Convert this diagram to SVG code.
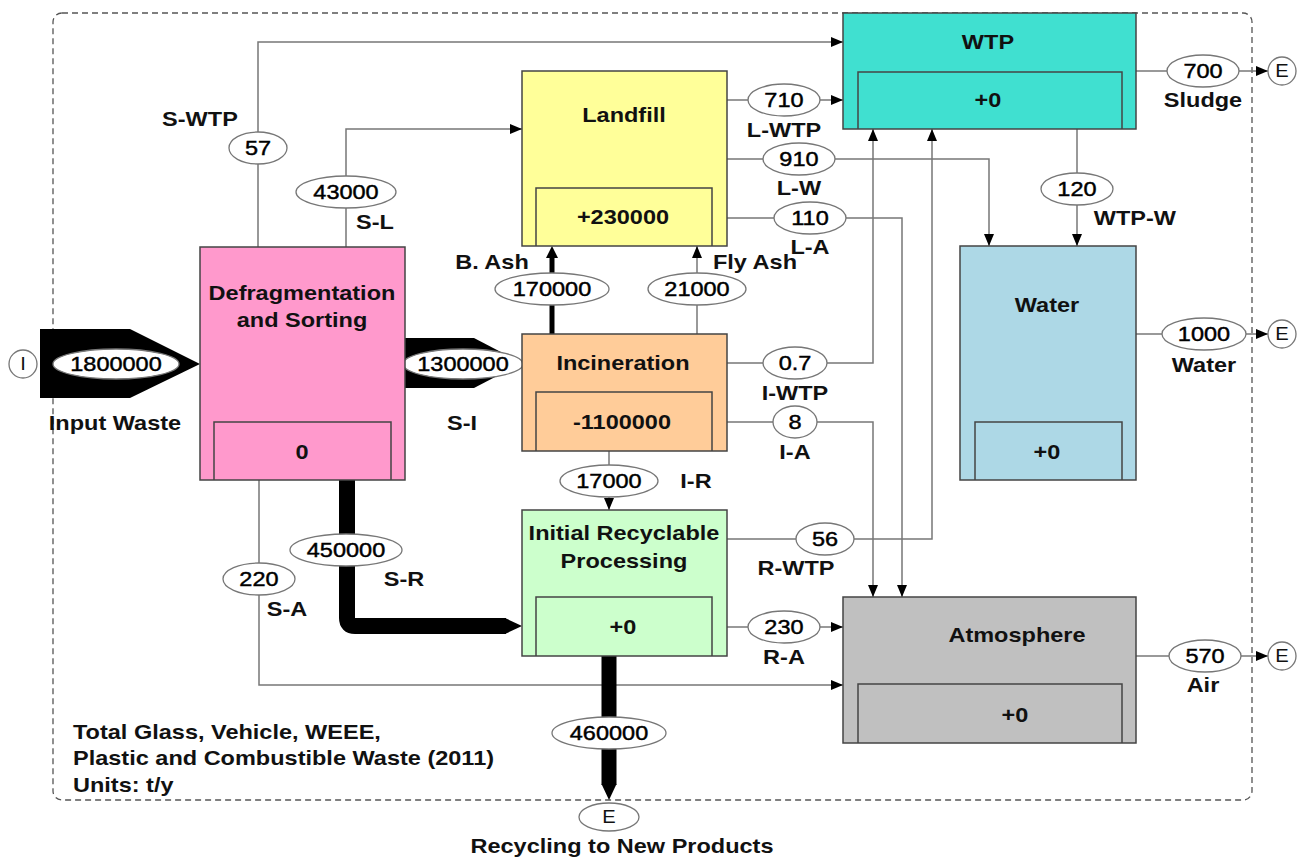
<svg xmlns="http://www.w3.org/2000/svg" width="1297" height="857" viewBox="0 0 1297 857">
<defs>
<marker id="ah" viewBox="0 0 12 10" refX="12" refY="5" markerWidth="12" markerHeight="10" markerUnits="userSpaceOnUse" orient="auto">
<path d="M0,0 L12,5 L0,10 z" fill="#000"/>
</marker>
<style>
text{font-family:"Liberation Sans",Arial,sans-serif;fill:#111;text-anchor:middle;dominant-baseline:central;transform-box:fill-box;transform-origin:center;transform:scaleX(1.12)}
.b{font-weight:bold;font-size:21px}
.n{font-size:21px;fill:#000;stroke:#000;stroke-width:0.45px}
.s{font-size:18px}
.note{text-anchor:start;transform-origin:left center}
.box{stroke:#444;stroke-width:1.5}
.inner{fill:none;stroke:#444;stroke-width:1.5}
.ln{fill:none;stroke:#777;stroke-width:1.5}
.arr{marker-end:url(#ah)}
.el{fill:#fff;stroke:#777;stroke-width:1.3}
.blk{fill:#000}
</style>
</defs>
<rect width="1297" height="857" fill="#fff"/>
<rect x="53" y="13" width="1199" height="787" rx="9" fill="none" stroke="#555" stroke-width="1.3" stroke-dasharray="6 4"/>

<g id="connectors">
<path class="ln arr" d="M258,247 V42 H843"/>
<path class="ln arr" d="M346,247 V129 H522"/>
<path class="ln arr" d="M727,100 H843"/>
<path class="ln arr" d="M727,159 H989 V246"/>
<path class="ln arr" d="M727,218 H902 V597"/>
<path class="ln arr" d="M1077,129 V246"/>
<path class="ln arr" d="M1136,71 H1268"/>
<path class="ln arr" d="M1136,334 H1268"/>
<path class="ln arr" d="M1136,656 H1268"/>
<path class="ln arr" d="M727,363 H873 V129"/>
<path class="ln arr" d="M727,422 H873 V597"/>
<path class="ln arr" d="M727,539 H932 V129"/>
<path class="ln arr" d="M727,627 H843"/>
<path class="ln arr" d="M259,480 V685 H843"/>
<path class="ln arr" d="M609,451 V510"/>
<path class="ln arr" d="M697,334 V246"/>
<path d="M552,334 V258" fill="none" stroke="#000" stroke-width="5"/>
<path d="M546,258 L552,246 L558,258 z" class="blk"/>
<polygon class="blk" points="40,329 130,329 200,364 130,398 40,398"/>
<polygon class="blk" points="405,338 474,338 522,363 474,388 405,388"/>
<path d="M347,480 V618 Q347,626 355,626 H506" fill="none" stroke="#000" stroke-width="16"/>
<polygon class="blk" points="505,618 522,626 505,634"/>
<path d="M609,656 V785" fill="none" stroke="#000" stroke-width="15"/>
<polygon class="blk" points="601.5,784 616.5,784 609,800"/>

<ellipse class="el" cx="116" cy="364" rx="63" ry="15"/><text class="n" x="116" y="364">1800000</text>
<ellipse class="el" cx="463" cy="364" rx="60" ry="15"/><text class="n" x="463" y="364">1300000</text>
<ellipse class="el" cx="258" cy="148" rx="29" ry="16"/><text class="n" x="258" y="148">57</text>
<ellipse class="el" cx="346" cy="192" rx="50" ry="16"/><text class="n" x="346" y="192">43000</text>
<ellipse class="el" cx="552" cy="289" rx="57" ry="16"/><text class="n" x="552" y="289">170000</text>
<ellipse class="el" cx="697" cy="289" rx="49" ry="16"/><text class="n" x="697" y="289">21000</text>
<ellipse class="el" cx="784" cy="100" rx="36" ry="16"/><text class="n" x="784" y="100">710</text>
<ellipse class="el" cx="799" cy="159" rx="36" ry="16"/><text class="n" x="799" y="159">910</text>
<ellipse class="el" cx="810" cy="218" rx="36" ry="16"/><text class="n" x="810" y="218">110</text>
<ellipse class="el" cx="1203" cy="71" rx="36" ry="16"/><text class="n" x="1203" y="71">700</text>
<ellipse class="el" cx="1077" cy="189" rx="36" ry="16"/><text class="n" x="1077" y="189">120</text>
<ellipse class="el" cx="1204" cy="334" rx="42" ry="16"/><text class="n" x="1204" y="334">1000</text>
<ellipse class="el" cx="795" cy="363" rx="32" ry="16"/><text class="n" x="795" y="363">0.7</text>
<ellipse class="el" cx="795" cy="422" rx="22" ry="16"/><text class="n" x="795" y="422">8</text>
<ellipse class="el" cx="609" cy="481" rx="49" ry="16"/><text class="n" x="609" y="481">17000</text>
<ellipse class="el" cx="825" cy="539" rx="29" ry="16"/><text class="n" x="825" y="539">56</text>
<ellipse class="el" cx="784" cy="627" rx="36" ry="16"/><text class="n" x="784" y="627">230</text>
<ellipse class="el" cx="1205" cy="656" rx="36" ry="16"/><text class="n" x="1205" y="656">570</text>
<ellipse class="el" cx="346" cy="550" rx="56" ry="16"/><text class="n" x="346" y="550">450000</text>
<ellipse class="el" cx="259" cy="579" rx="36" ry="16"/><text class="n" x="259" y="579">220</text>
<ellipse class="el" cx="609" cy="733" rx="57" ry="16"/><text class="n" x="609" y="733">460000</text>

<text class="b" x="200" y="119">S-WTP</text>
<text class="b" x="375" y="222">S-L</text>
<text class="b" x="492" y="262">B. Ash</text>
<text class="b" x="755" y="262">Fly Ash</text>
<text class="b" x="784" y="130">L-WTP</text>
<text class="b" x="799" y="188">L-W</text>
<text class="b" x="810" y="247">L-A</text>
<text class="b" x="1203" y="100">Sludge</text>
<text class="b" x="1135" y="218">WTP-W</text>
<text class="b" x="1204" y="365">Water</text>
<text class="b" x="795" y="393">I-WTP</text>
<text class="b" x="795" y="452">I-A</text>
<text class="b" x="696" y="481">I-R</text>
<text class="b" x="796" y="568">R-WTP</text>
<text class="b" x="784" y="657">R-A</text>
<text class="b" x="1203" y="685">Air</text>
<text class="b" x="462" y="423">S-I</text>
<text class="b" x="404" y="579">S-R</text>
<text class="b" x="287" y="609">S-A</text>
<text class="b" x="115" y="423">Input Waste</text>
</g>

<g id="terminals">
<circle class="el" cx="23" cy="364" r="14"/><text class="s" x="23" y="364">I</text>
<circle class="el" cx="1282" cy="71" r="14"/><text class="s" x="1282" y="71">E</text>
<circle class="el" cx="1282" cy="334" r="14"/><text class="s" x="1282" y="334">E</text>
<circle class="el" cx="1282" cy="656" r="14"/><text class="s" x="1282" y="656">E</text>
<ellipse class="el" cx="609" cy="817" rx="30" ry="14"/><text class="s" x="609" y="817">E</text>
<text class="b" x="622" y="846">Recycling to New Products</text>
</g>

<g id="defrag">
<rect class="box" x="200" y="247" width="205" height="233" fill="#FF99CC"/>
<path class="inner" d="M214,480 V422 H391 V480"/>
<text class="b" x="302" y="293">Defragmentation</text>
<text class="b" x="302" y="320">and Sorting</text>
<text class="b" x="302" y="452">0</text>
</g>

<g id="landfill">
<rect class="box" x="522" y="71" width="205" height="175" fill="#FFFF99"/>
<path class="inner" d="M536,246 V188 H712 V246"/>
<text class="b" x="624" y="115">Landfill</text>
<text class="b" x="623" y="217">+230000</text>
</g>

<g id="wtp">
<rect class="box" x="843" y="13" width="293" height="116" fill="#40E0D0"/>
<path class="inner" d="M858,129 V72 H1122 V129"/>
<text class="b" x="988" y="42">WTP</text>
<text class="b" x="988" y="100">+0</text>
</g>

<g id="water">
<rect class="box" x="960" y="246" width="176" height="234" fill="#ADD8E6"/>
<path class="inner" d="M975,480 V422 H1122 V480"/>
<text class="b" x="1047" y="305">Water</text>
<text class="b" x="1047" y="452">+0</text>
</g>

<g id="incineration">
<rect class="box" x="522" y="334" width="205" height="117" fill="#FFCC99"/>
<path class="inner" d="M536,451 V392 H712 V451"/>
<text class="b" x="623" y="363">Incineration</text>
<text class="b" x="622" y="422">-1100000</text>
</g>

<g id="recycling">
<rect class="box" x="522" y="510" width="205" height="146" fill="#CCFFCC"/>
<path class="inner" d="M536,656 V597 H712 V656"/>
<text class="b" x="624" y="533">Initial Recyclable</text>
<text class="b" x="624" y="561">Processing</text>
<text class="b" x="623" y="627">+0</text>
</g>

<g id="atmosphere">
<rect class="box" x="843" y="597" width="293" height="146" fill="#C0C0C0"/>
<path class="inner" d="M858,743 V684 H1122 V743"/>
<text class="b" x="1017" y="635">Atmosphere</text>
<text class="b" x="1015" y="715">+0</text>
</g>

<g id="note">
<text class="b note" x="73" y="732">Total Glass, Vehicle, WEEE,</text>
<text class="b note" x="73" y="758">Plastic and Combustible Waste (2011)</text>
<text class="b note" x="73" y="785">Units: t/y</text>
</g>
</svg>
